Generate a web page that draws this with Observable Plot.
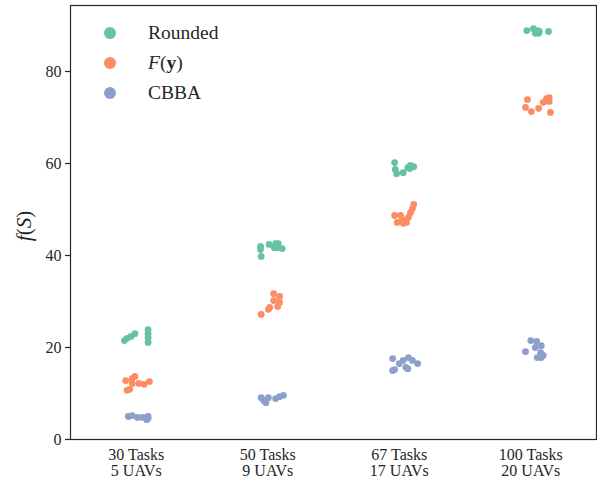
<!DOCTYPE html>
<html>
<head>
<meta charset="utf-8">
<script src="https://cdn.jsdelivr.net/npm/d3@7"></script>
<script src="https://cdn.jsdelivr.net/npm/@observablehq/plot@0.6"></script>
<style>
  html, body { margin: 0; padding: 0; background: #fff; }
  #wrap { position: relative; width: 597px; height: 481px; font-family: "Liberation Serif", "DejaVu Serif", serif; color: #262626; }
  #legend { position: absolute; left: 104px; top: 18px; font-size: 19.5px; line-height: 30px; }
  .item { display: flex; align-items: center; height: 30px; }
  .sw { width: 12px; height: 12px; border-radius: 50%; margin-right: 32px; }
</style>
</head>
<body>
<div id="wrap"></div>
<script>
// ---- Data ----
const categories = ["30 Tasks\n5 UAVs", "50 Tasks\n9 UAVs", "67 Tasks\n17 UAVs", "100 Tasks\n20 UAVs"];
const seriesNames = ["Rounded", "F(y)", "CBBA"];
const seriesColors = ["#66c2a5", "#fc8d62", "#8da0cb"];
const yTicks = [0, 20, 40, 60, 80];

// values per category for each series
const roundedValues = [
  [21.5, 22.0, 22.4, 23.0, 23.9, 23.0, 22.2, 21.1],
  [42.0, 41.3, 39.8, 42.4, 42.6, 42.6, 41.7, 41.5, 41.7],
  [60.2, 58.7, 57.8, 58.0, 59.1, 59.6, 59.3, 58.9],
  [88.9, 89.3, 88.9, 88.3, 88.3, 88.7, 88.7]
];
const roundedJitter = [
  [-0.09, -0.07, -0.04, -0.01, 0.09, 0.09, 0.09, 0.09],
  [-0.055, -0.055, -0.05, 0.01, 0.06, 0.08, 0.07, 0.11, 0.05],
  [-0.035, -0.03, -0.02, 0.03, 0.065, 0.085, 0.11, 0.08],
  [-0.03, 0.02, 0.05, 0.06, 0.035, 0.065, 0.135]
];
const fyValues = [
  [12.8, 13.3, 13.7, 12.2, 12.2, 12.0, 12.6, 10.7, 10.9],
  [31.7, 31.1, 30.2, 29.8, 28.9, 28.7, 28.3, 27.2],
  [51.1, 50.2, 49.3, 48.3, 47.2, 47.8, 48.7, 48.7, 47.2, 47.0],
  [73.9, 72.2, 71.3, 72.0, 73.3, 74.1, 74.3, 73.5, 71.1]
];
const fyJitter = [
  [-0.08, -0.03, -0.01, -0.03, 0.02, 0.06, 0.10, -0.07, -0.05],
  [0.045, 0.09, 0.045, 0.09, 0.075, 0.015, 0.005, -0.05],
  [0.11, 0.10, 0.085, 0.07, 0.055, 0.025, 0.01, -0.035, -0.015, 0.03],
  [-0.025, -0.04, 0.005, 0.06, 0.095, 0.12, 0.14, 0.14, 0.15]
];
const cbbaValues = [
  [5.0, 5.2, 4.8, 4.8, 5.0, 4.6, 4.3],
  [9.1, 8.5, 8.0, 9.1, 8.9, 9.3, 9.6],
  [17.6, 16.5, 17.2, 17.8, 17.2, 16.5, 15.0, 15.2, 15.4, 15.7],
  [21.5, 21.3, 20.0, 20.4, 19.1, 18.9, 18.3, 17.8, 17.8]
];
const cbbaJitter = [
  [-0.06, -0.03, 0.01, 0.05, 0.09, 0.09, 0.08],
  [-0.05, -0.03, -0.015, 0.005, 0.06, 0.09, 0.12],
  [-0.05, 0.0, 0.03, 0.07, 0.10, 0.14, -0.05, -0.035, 0.065, 0.05],
  [0.0, 0.045, 0.035, 0.08, -0.04, 0.075, 0.095, 0.05, 0.08]
];

// ---- Build table ----
const seriesData = [[roundedValues, roundedJitter], [fyValues, fyJitter], [cbbaValues, cbbaJitter]];
const rows = [];
seriesData.forEach(([vals, jit], s) => {
  vals.forEach((arr, c) => {
    arr.forEach((v, k) => rows.push({series: seriesNames[s], x: c + jit[c][k], y: v}));
  });
});

const chart = Plot.plot({
  width: 597,
  height: 481,
  marginLeft: 70,
  marginRight: 1,
  marginTop: 5,
  marginBottom: 42,
  style: {fontFamily: "'Liberation Serif', 'DejaVu Serif', serif", fontSize: "16px", color: "#262626", background: "#fff"},
  x: {domain: [-0.5, 3.5]},
  y: {domain: [0, 94.35]},
  color: {domain: seriesNames, range: seriesColors},
  marks: [
    Plot.dot(rows, {x: "x", y: "y", fill: "series", r: 3.4, stroke: null}),
    Plot.axisY({ticks: yTicks, tickSize: 5, tickPadding: 4, label: null, stroke: "#262626", strokeWidth: 1.2}),
    Plot.axisX({ticks: [0, 1, 2, 3], tickFormat: i => categories[i], tickSize: 0, tickPadding: 9, label: null}),
    Plot.frame({stroke: "#262626", strokeWidth: 1.2})
  ]
});

const wrap = document.getElementById("wrap");
wrap.appendChild(chart);

// y-axis label f(S)
const lab = d3.select(chart).append("text")
  .attr("transform", "translate(26,226) rotate(-90)")
  .attr("text-anchor", "middle")
  .attr("dominant-baseline", "middle")
  .attr("font-size", 21)
  .attr("fill", "#262626");
lab.append("tspan").attr("font-style", "italic").text("f");
lab.append("tspan").text("(");
lab.append("tspan").attr("font-style", "italic").text("S");
lab.append("tspan").text(")");

// legend inside the axes
const legend = document.createElement("div");
legend.id = "legend";
const labelsHtml = ["Rounded", "<i>F</i>(<b>y</b>)", "CBBA"];
seriesNames.forEach((name, i) => {
  const item = document.createElement("div");
  item.className = "item";
  item.innerHTML = `<span class="sw" style="background:${seriesColors[i]}"></span><span>${labelsHtml[i]}</span>`;
  legend.appendChild(item);
});
wrap.appendChild(legend);
</script>
</body>
</html>
